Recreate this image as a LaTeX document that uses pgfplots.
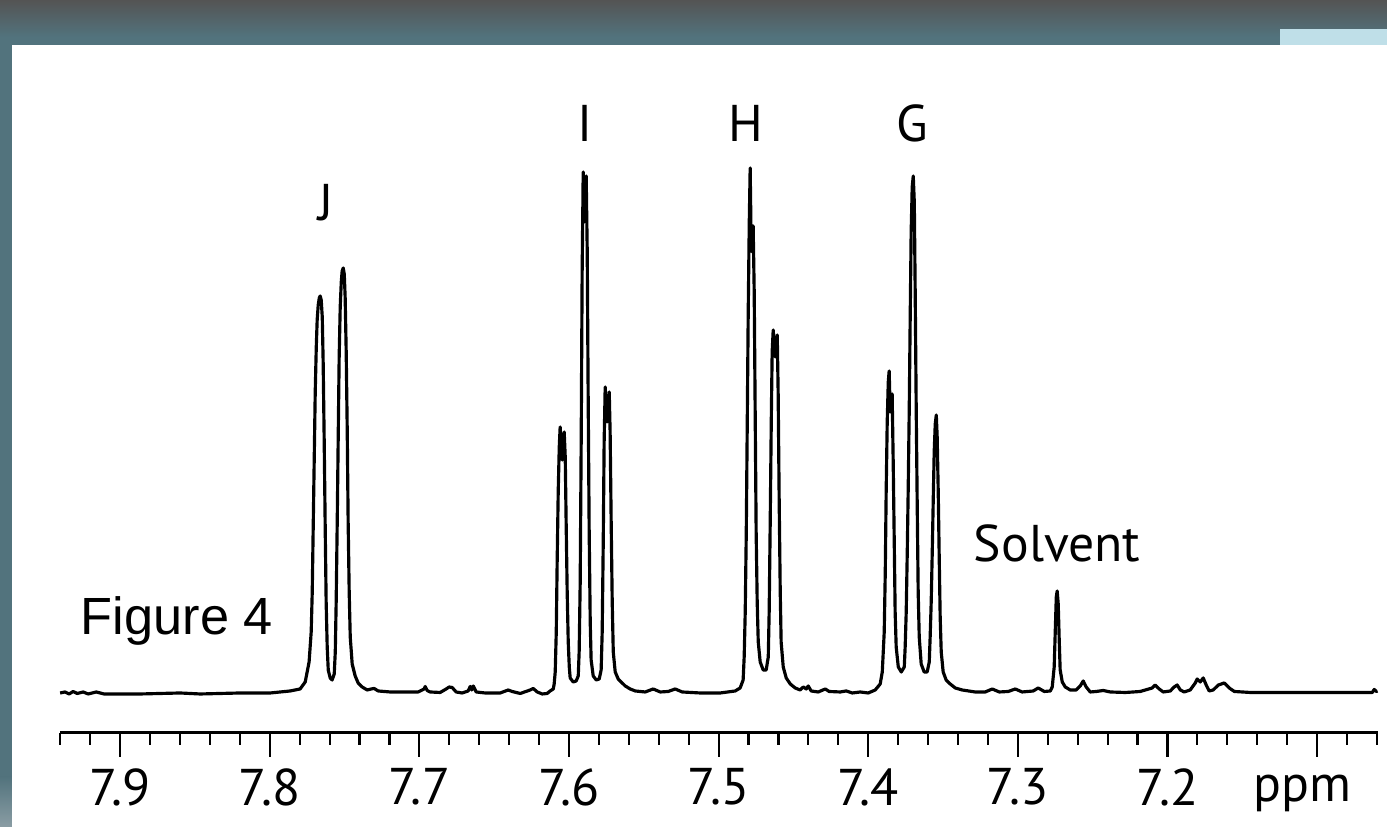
\documentclass[border=0pt]{standalone}
\usepackage{pgfplots}
\pgfplotsset{compat=1.18}
\usepackage{fontspec}
\setmainfont{PT Sans}
\newfontfamily\figfont{Liberation Sans}
\definecolor{frameteal}{HTML}{52737D}
\definecolor{framegray}{HTML}{545454}
\definecolor{framelight}{HTML}{8A9DA4}
\definecolor{panelblue}{HTML}{BFDFE8}

\begin{document}
\begin{tikzpicture}
\path[use as bounding box] (0,0) rectangle (416.1pt,248.1pt);
% screenshot frame around the figure (1 px = 0.3pt)
\begin{scope}[x=0.3pt,y=0.3pt]
\fill[frameteal] (0,0) rectangle (1387,827);
\shade[top color=framegray, bottom color=frameteal] (0,790) rectangle (1387,827);
\shade[top color=frameteal, bottom color=framelight] (0,0) rectangle (12,50);
\fill[panelblue] (1280,782) rectangle (1387,798);
\fill[white] (12,0) rectangle (1387,782);
\end{scope}

\begin{axis}[
    at={(18pt,28.2pt)}, anchor=south west,
    scale only axis, width=395.3pt, height=207.3pt,
    axis x line=bottom, axis y line=none,
    x axis line style={-, line width=0.9pt},
    x dir=reverse,
    xmin=7.0595, xmax=7.9402,
    ymin=-41, ymax=650,
    xtick={7.1,7.2,7.3,7.4,7.5,7.6,7.7,7.8,7.9},
    xticklabels={,7.2,7.3,7.4,7.5,7.6,7.7,7.8,7.9},
    minor xtick={7.06,7.08,7.12,7.14,7.16,7.18,7.22,7.24,7.26,7.28,7.32,7.34,7.36,7.38,7.42,7.44,7.46,7.48,7.52,7.54,7.56,7.58,7.62,7.64,7.66,7.68,7.72,7.74,7.76,7.78,7.82,7.84,7.86,7.88,7.92,7.94},
    tick align=outside,
    major tick length=7.2pt, minor tick length=3.6pt,
    every tick/.style={black, line width=0.65pt},
    xticklabel style={font=\fontsize{15.5}{18}\selectfont},
    clip=false,
]
\addplot[black, line width=0.95pt, line join=round] coordinates {
(7.9401,-1)(7.9368,0)(7.9341,-2)(7.9314,0.5)(7.9287,-1.5)(7.9247,0)(7.9214,-2)(7.9160,0)(7.9107,-2)
(7.8866,-2)(7.8599,-1)(7.8465,-2)(7.8198,-1)(7.7997,-1)(7.7864,1)(7.7797,3)(7.7763,10)(7.7737,30)
(7.7723,60)(7.7716,100)(7.7710,160)(7.7703,230)(7.7696,300)(7.7689,345)(7.7683,372)(7.7676,387)(7.7669,394)
(7.7663,396)(7.7656,392)(7.7649,375)(7.7643,330)(7.7636,250)(7.7629,160)(7.7623,90)(7.7616,45)(7.7609,22)
(7.7596,14)(7.7583,12)(7.7569,18)
(7.7562,40)(7.7556,90)(7.7549,170)(7.7542,260)(7.7536,335)(7.7529,385)(7.7522,410)(7.7516,421)(7.7509,424)
(7.7502,418)(7.7496,395)(7.7489,340)(7.7482,260)(7.7476,170)(7.7469,100)(7.7462,55)(7.7449,28)(7.7429,16)
(7.7409,9)(7.7382,5)(7.7349,2)(7.7322,3)(7.7302,3.5)(7.7275,1)(7.7195,0)
(7.7128,0)(7.7008,0)(7.6968,3)(7.6961,5.5)(7.6948,1.5)(7.6928,0)(7.6861,-0.5)(7.6821,3)(7.6801,5)(7.6781,4.5)
(7.6754,0)(7.6714,-1)(7.6674,1)(7.6660,5.5)(7.6650,2)(7.6640,6)(7.6620,0)(7.6560,-1)(7.6460,-1)(7.6406,2)
(7.6380,0.5)(7.6326,-1.5)(7.6259,2)(7.6239,3.5)(7.6212,0)(7.6179,-2)(7.6146,-1.5)(7.6126,1)(7.6105,3)
(7.6099,8)(7.6092,20)(7.6085,60)(7.6079,130)(7.6072,200)(7.6065,245)(7.6059,265)(7.6052,245)(7.6045,232)
(7.6039,250)(7.6032,260)(7.6025,235)(7.6019,170)(7.6012,100)(7.6005,50)(7.5998,25)(7.5992,14)(7.5972,10)
(7.5952,11)(7.5938,16)
(7.5932,40)(7.5925,110)(7.5918,260)(7.5912,420)(7.5905,520)(7.5898,470)(7.5892,480)(7.5885,516)(7.5878,440)
(7.5872,300)(7.5865,160)(7.5858,70)(7.5852,32)(7.5838,16)(7.5818,12)(7.5798,13)(7.5785,22)
(7.5778,60)(7.5771,150)(7.5765,250)(7.5758,305)(7.5751,285)(7.5745,270)(7.5738,285)(7.5731,300)(7.5725,260)
(7.5718,170)(7.5711,90)(7.5704,40)(7.5691,20)(7.5671,13)(7.5651,10)(7.5624,6)(7.5591,3)(7.5557,1)(7.5491,0)
(7.5437,3)(7.5390,0)(7.5337,0.5)(7.5290,3)(7.5243,0)(7.5123,-1)(7.4989,-1)(7.4889,1)(7.4856,4)
(7.4836,12)(7.4829,35)(7.4822,80)(7.4815,160)(7.4809,260)(7.4802,380)(7.4795,470)(7.4789,524)(7.4782,445)
(7.4775,440)(7.4769,466)(7.4762,400)(7.4755,270)(7.4749,160)(7.4742,90)(7.4735,50)(7.4722,30)(7.4702,22)
(7.4682,22)
(7.4668,35)(7.4662,80)(7.4655,170)(7.4648,270)(7.4642,340)(7.4635,362)(7.4628,345)(7.4622,335)(7.4615,350)
(7.4608,357)(7.4602,300)(7.4595,190)(7.4588,100)(7.4582,50)(7.4568,25)(7.4548,14)(7.4521,8)(7.4488,4)
(7.4455,2)(7.4434,5)(7.4414,3)(7.4401,6)(7.4381,1)(7.4334,0)(7.4287,3)(7.4261,0.5)(7.4187,0)(7.4147,1)
(7.4107,-1)(7.4053,0)(7.4000,-1)(7.3953,2)(7.3920,8)
(7.3906,20)(7.3893,60)(7.3886,120)(7.3880,200)(7.3873,270)(7.3866,310)(7.3860,321)(7.3853,280)(7.3846,285)
(7.3840,298)(7.3833,230)(7.3826,150)(7.3820,80)(7.3813,45)(7.3799,25)(7.3779,20)(7.3759,25)
(7.3753,45)(7.3746,80)(7.3739,140)(7.3733,200)(7.3726,280)(7.3719,380)(7.3713,460)(7.3706,505)(7.3699,516)
(7.3692,490)(7.3686,400)(7.3679,280)(7.3672,180)(7.3666,100)(7.3659,55)(7.3646,28)(7.3626,20)(7.3606,20)
(7.3592,30)(7.3586,55)(7.3579,90)(7.3572,140)(7.3565,195)(7.3559,240)(7.3552,268)(7.3545,277)(7.3539,255)
(7.3532,200)(7.3525,130)(7.3519,75)(7.3512,40)(7.3499,20)(7.3479,12)(7.3452,8)(7.3418,4)(7.3372,2)(7.3285,0)
(7.3218,0)(7.3171,3)(7.3124,0)(7.3064,0.5)(7.3017,3)(7.2971,0)(7.2897,1)(7.2864,4)(7.2823,0.5)(7.2783,1)
(7.2770,5)(7.2757,25)(7.2750,60)(7.2743,95)(7.2737,101)(7.2730,88)(7.2723,50)(7.2717,22)(7.2703,10)
(7.2683,5)(7.2650,2)(7.2610,2)(7.2583,6)(7.2563,11)(7.2543,5)(7.2516,0)(7.2476,0.5)(7.2429,1.5)(7.2382,0)
(7.2282,-0.5)(7.2229,0)(7.2182,0.5)(7.2102,4)(7.2082,7)(7.2055,3)(7.2028,0)(7.1981,1)(7.1955,5)(7.1935,7)
(7.1914,2)(7.1888,0)(7.1848,2)(7.1814,9)(7.1801,13)(7.1781,10)(7.1761,14)(7.1741,7)(7.1721,1)(7.1694,2)
(7.1660,7)(7.1620,9)(7.1587,4)(7.1553,0.5)(7.1446,-0.5)(7.1112,-0.5)(7.0778,-0.5)(7.0631,-0.5)(7.0618,2.5)
(7.0604,0.5)(7.0596,1)
};
\node[anchor=base, font=\fontsize{15.5}{18}\selectfont] at (axis cs:7.7625,471) {J};
\node[anchor=base, font=\fontsize{15.5}{18}\selectfont] at (axis cs:7.5892,550) {I};
\node[anchor=base, font=\fontsize{15.5}{18}\selectfont] at (axis cs:7.4815,550) {H};
\node[anchor=base, font=\fontsize{15.5}{18}\selectfont] at (axis cs:7.3706,550) {G};
\node[anchor=base, font=\fontsize{15.5}{18}\selectfont] at (axis cs:7.2737,130) {Solvent};
\node[anchor=base west, inner sep=0pt, font=\figfont\fontsize{15.7}{18}\selectfont] at (axis cs:7.9267,57) {Figure 4};
\node[anchor=base, font=\fontsize{15.5}{18}\selectfont] at (axis cs:7.1099,-110) {ppm};
\end{axis}
\end{tikzpicture}
\end{document}
